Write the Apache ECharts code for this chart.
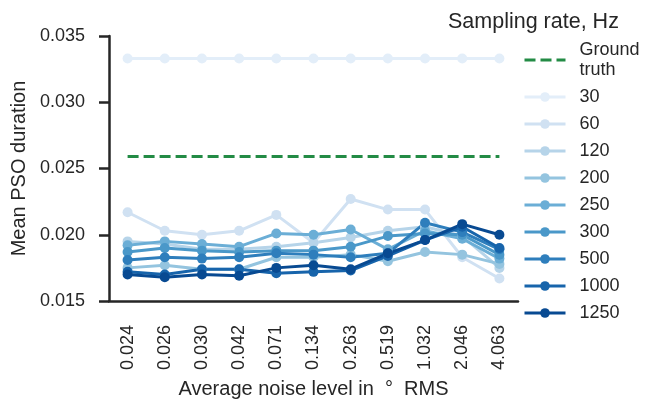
<!DOCTYPE html>
<html>
<head>
<meta charset="utf-8">
<script src="https://cdn.jsdelivr.net/npm/echarts@6/dist/echarts.min.js"></script>
<style>html,body{margin:0;padding:0;background:#fff}#c{width:645px;height:404px}</style>
</head>
<body>
<div id="c"></div>
<script>
var categories = ['0.024','0.026','0.030','0.042','0.071','0.134','0.263','0.519','1.032','2.046','4.063'];
var rates = ['30','60','120','200','250','300','500','1000','1250'];
var s30   = [0.0333,0.0333,0.0333,0.0333,0.0333,0.0333,0.0333,0.0333,0.0333,0.0333,0.0333];
var s60   = [0.0217,0.0203,0.0200,0.0203,0.0215,0.0194,0.0227,0.0219,0.0219,0.0183,0.0167];
var s120  = [0.0195,0.0193,0.0189,0.0189,0.0191,0.0194,0.0198,0.0203,0.0206,0.0199,0.0175];
var s200  = [0.0175,0.0177,0.0174,0.0174,0.0183,0.0183,0.0185,0.0180,0.0187,0.0185,0.0178];
var s250  = [0.0192,0.0195,0.0193,0.0191,0.0201,0.0200,0.0204,0.0189,0.0203,0.0197,0.0182];
var s300  = [0.0187,0.0190,0.0188,0.0187,0.0188,0.0188,0.0191,0.0199,0.0201,0.0200,0.0185];
var s500  = [0.0181,0.0183,0.0182,0.0183,0.0186,0.0185,0.0183,0.0186,0.0209,0.0202,0.0189];
var s1000 = [0.0172,0.0170,0.0174,0.0174,0.0171,0.0172,0.0173,0.0184,0.0196,0.0206,0.0190];
var s1250 = [0.0170,0.0168,0.0170,0.0169,0.0175,0.0177,0.0174,0.0186,0.0196,0.0208,0.0200];
var groundTruth = [0.0259,0.0259,0.0259,0.0259,0.0259,0.0259,0.0259,0.0259,0.0259,0.0259,0.0259];
var yTicks = {min: 0.015, max: 0.035, interval: 0.005};

var seriesValues = [s30,s60,s120,s200,s250,s300,s500,s1000,s1250];
var colors = ['#e3eef9','#d0e1f2','#b6d4e9','#94c4df','#6baed6','#4a98c9','#2e7ebc','#1764ab','#084a92'];
var gtColor = '#238b45';
var FONT = 'Liberation Sans, Arial, sans-serif';
var TXT = '#262626';

var series = [{
  name: 'Ground truth', type: 'line', data: groundTruth, symbol: 'none',
  lineStyle: {color: gtColor, width: 3, type: [11, 5]}, itemStyle: {color: gtColor},
  animation: false
}];
rates.forEach(function (r, i) {
  series.push({
    name: r, type: 'line', data: seriesValues[i], symbol: 'circle', symbolSize: 10,
    lineStyle: {color: colors[i], width: 3}, itemStyle: {color: colors[i]},
    animation: false
  });
});

var legendData = [{name: 'Ground truth', itemStyle: {opacity: 0}, textStyle: {lineHeight: 20}}].concat(rates.map(function (r) { return {name: r}; }));

var chart = echarts.init(document.getElementById('c'), null, {renderer: 'canvas'});
chart.setOption({
  animation: false,
  backgroundColor: '#fff',
  title: {
    text: 'Sampling rate, Hz', left: 443, top: 6,
    textStyle: {fontFamily: FONT, fontSize: 21.5, fontWeight: 'normal', color: TXT}
  },
  legend: {
    data: legendData, orient: 'vertical', left: 523, top: 40, padding: 0,
    itemWidth: 41, itemHeight: 12, itemGap: 7,
    lineStyle: {width: 3},
    formatter: function (n) { return n === 'Ground truth' ? 'Ground\ntruth' : n; },
    textStyle: {fontFamily: FONT, fontSize: 18, color: TXT, lineHeight: 20, padding: [0, 0, 0, 9]}
  },
  grid: {left: 109, right: 127, top: 36, bottom: 102, containLabel: false},
  xAxis: {
    type: 'category', data: categories, boundaryGap: true,
    name: 'Average noise level in  °  RMS', nameLocation: 'middle', nameGap: 78,
    nameTextStyle: {fontFamily: FONT, fontSize: 20, color: TXT},
    axisLine: {lineStyle: {color: TXT, width: 2.5}},
    axisTick: {alignWithLabel: true, length: 10, lineStyle: {color: TXT, width: 2.5}},
    axisLabel: {rotate: 90, margin: 24, fontFamily: FONT, fontSize: 18, color: TXT},
    splitLine: {show: false}
  },
  yAxis: {
    type: 'value', min: yTicks.min, max: yTicks.max, interval: yTicks.interval,
    name: 'Mean PSO duration', nameLocation: 'middle', nameGap: 80,
    nameTextStyle: {fontFamily: FONT, fontSize: 20, color: TXT},
    axisLine: {show: true, lineStyle: {color: TXT, width: 2.5}},
    axisTick: {show: true, length: 10, lineStyle: {color: TXT, width: 2.5}},
    axisLabel: {margin: 24, fontFamily: FONT, fontSize: 18, color: TXT,
      formatter: function (v) { return v.toFixed(3); }},
    splitLine: {show: false}
  },
  series: series
});
</script>
</body>
</html>
